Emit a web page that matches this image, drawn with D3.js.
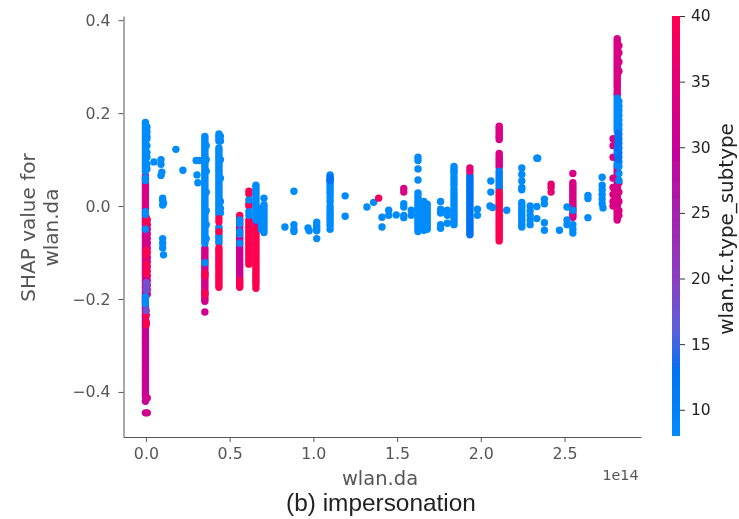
<!DOCTYPE html>
<html>
<head>
<meta charset="utf-8">
<script src="https://cdn.jsdelivr.net/npm/d3@7"></script>
<style>
  body { margin: 0; background: #fff; }
  text { font-family: "DejaVu Sans", sans-serif; }
</style>
</head>
<body>
<div id="chart"></div>
<script>
// x values are in units of 1e14
const xTicks = [0, 0.5, 1, 1.5, 2, 2.5];
const yTicks = [-0.4, -0.2, 0, 0.2, 0.4];
const colorTicks = [10, 15, 20, 25, 30, 35, 40];

// colour stops of the bar
const colorDomain = [8, 13, 16, 20, 25, 30, 35, 40];
const colorRange = ["#008bfb", "#0073f2", "#5a60dc", "#8a3fc0", "#a521ad", "#c8009a", "#e40078", "#ff0051"];

// column at 0.0
const col00Pink = [0.065, 0.06, 0.055, 0.05, 0.045, 0.04, 0.035, 0.03, 0.025, 0.02, 0.015, 0.01, 0.005, 0, -0.005, -0.01, -0.015, -0.02, -0.025, -0.03, -0.035, -0.04, -0.045, -0.05, -0.055, -0.06, -0.065, -0.07, -0.075, -0.08, -0.085, -0.09, -0.095, -0.1, -0.105, -0.11, -0.115, -0.12, -0.125, -0.13, -0.135, -0.14, -0.145, -0.15, -0.155, -0.16, -0.165, -0.17, -0.175, -0.18, -0.185, -0.19];
const col00Magenta = [-0.195, -0.2, -0.205, -0.21, -0.215, -0.22, -0.225, -0.23, -0.235, -0.24, -0.245, -0.25, -0.255, -0.26, -0.265, -0.27, -0.275, -0.28, -0.285, -0.29, -0.295, -0.3, -0.305, -0.31, -0.315, -0.32, -0.325, -0.33, -0.335, -0.34, -0.345, -0.35, -0.355, -0.36, -0.365, -0.37, -0.375, -0.38, -0.385, -0.39, -0.395, -0.4, -0.405, -0.41, -0.42, -0.445];
const col00MagentaMid = [-0.05, -0.06, -0.075, -0.085, -0.095, -0.11, -0.12, -0.13, -0.15, -0.16, -0.17, -0.18];
const col00MagentaRight = [-0.03, -0.04, -0.05, -0.06, -0.07, -0.08, -0.09, -0.1, -0.11, -0.12, -0.13, -0.14, -0.15, -0.16, -0.17, -0.18, -0.19, -0.413, -0.445];
const col00Red = [-0.025, -0.035, -0.095, -0.1, -0.105, -0.125, -0.14, -0.145, -0.235, -0.25, -0.255];
const col00Purple = [-0.165, -0.17, -0.18, -0.225];
const col00Blue = [0.18, 0.175, 0.17, 0.165, 0.16, 0.155, 0.15, 0.145, 0.14, 0.135, 0.13, 0.125, 0.12, 0.115, 0.11, 0.105, 0.1, 0.095, 0.09, 0.085, 0.08, 0.075, 0.06, 0.055, -0.012, -0.018, -0.05, -0.195, -0.2, -0.205, -0.21];
const col00BlueRight = [0.17, 0.16, 0.15, 0.145, 0.13, 0.115, 0.105, 0.09, 0.08];

// column at 0.35
const col35Magenta = [-0.09, -0.095, -0.1, -0.105, -0.11, -0.115, -0.12, -0.125, -0.13, -0.135, -0.14, -0.145, -0.15, -0.155, -0.16, -0.165, -0.17, -0.175, -0.18, -0.185, -0.19, -0.195, -0.2, -0.205, -0.228];
const col35Red = [-0.145, -0.15, -0.187, -0.19];
const col35Blue = [0.15, 0.145, 0.14, 0.135, 0.13, 0.125, 0.12, 0.115, 0.11, 0.105, 0.1, 0.095, 0.09, 0.085, 0.08, 0.075, 0.07, 0.065, 0.06, 0.055, 0.05, 0.045, 0.04, 0.035, 0.03, 0.025, 0.02, 0.015, 0.01, 0.005, 0, -0.005, -0.01, -0.015, -0.02, -0.025, -0.03, -0.035, -0.04, -0.045, -0.05, -0.055, -0.06, -0.065, -0.07, -0.075, -0.08, -0.122];
const col35BlueRight = [0.13, 0.1, 0.075, 0.03, -0.01, -0.04, -0.07];

// column at 0.44
const col44Blue = [0.155, 0.15, 0.145, 0.14, 0.125, 0.12, 0.115, 0.11, 0.105, 0.1, 0.095, 0.09, 0.085, 0.08, 0.075, 0.07, 0.065, 0.06, 0.055, 0.05, 0.045, 0.04, 0.035, 0.03, 0.025, 0.02, 0.015, 0.01, 0.005, 0, -0.005, -0.01, -0.015, -0.02, -0.045, -0.05, -0.06, -0.065, -0.07, -0.075, -0.08];
const col44BlueRight = [0.15, 0.14, 0.1, 0.06, 0.01, -0.005, -0.015];
const col44Red = [-0.027, -0.034, -0.055, -0.09, -0.095, -0.1, -0.105, -0.11, -0.115, -0.12, -0.125, -0.13, -0.135, -0.14, -0.145, -0.15, -0.155, -0.16, -0.165, -0.17, -0.175];

// column at 0.56
const col56Magenta = [-0.025, -0.03, -0.035, -0.04, -0.045, -0.05, -0.055, -0.06, -0.065, -0.07, -0.075, -0.08, -0.085, -0.09, -0.095, -0.1, -0.105, -0.11, -0.115, -0.12, -0.125, -0.13, -0.135, -0.14, -0.145, -0.15, -0.155, -0.16, -0.165, -0.172];
const col56Red = [-0.02, -0.16, -0.168, -0.175];
const col56Blue = [-0.03, -0.038, -0.055, -0.06, -0.08];

// column at 0.615
const col61Red = [0.032, 0.026, 0.005, 0, -0.03, -0.035, -0.04, -0.045, -0.05, -0.055, -0.06, -0.065, -0.07, -0.075, -0.08, -0.085, -0.09, -0.095, -0.1, -0.105, -0.11, -0.115, -0.12, -0.125];
const col61Blue = [0.013, -0.012, -0.02];

// columns at 0.66 and 0.7
const col66Red = [-0.04, -0.045, -0.05, -0.055, -0.06, -0.065, -0.07, -0.075, -0.08, -0.085, -0.09, -0.095, -0.1, -0.105, -0.11, -0.115, -0.12, -0.125, -0.13, -0.135, -0.14, -0.145, -0.15, -0.155, -0.16, -0.165, -0.17, -0.177];
const col66Magenta = [-0.035, -0.03];
const col66Blue = [0.045, 0.04, 0.035, 0.03, 0.025, 0.02, 0.015, 0.01, 0.005, 0, -0.005, -0.01, -0.015, -0.02, -0.025, -0.03];
const col70Blue = [0.017, 0.003, -0.002, -0.008, -0.014, -0.02, -0.026, -0.032, -0.038, -0.044, -0.05, -0.057];
const col69Blue = [-0.005, -0.015, -0.025, -0.04, -0.05];

// middle columns
const col110Blue = [0.067, 0.06, 0.055, 0.05, 0.044, 0.038, 0.032, 0.026, 0.018, 0.01, 0, -0.006, -0.012, -0.018, -0.024, -0.03, -0.036, -0.042, -0.05];
const col110Dark = [0.062, 0.055];
const col1625Blue = [0.105, 0.098, 0.08, 0.056, 0.028, 0.022, 0.016, 0.01, 0.005, 0, -0.005, -0.01, -0.015, -0.02, -0.025, -0.03, -0.035, -0.04, -0.045, -0.05, -0.055];
const col166Blue = [0.01, 0.005, 0, -0.005, -0.01, -0.015, -0.02, -0.025, -0.03, -0.035, -0.04, -0.045, -0.052];
const col168Blue = [0.004, -0.002, -0.008, -0.014, -0.02, -0.026, -0.032, -0.038, -0.044, -0.05];
const col184Blue = [0.085, 0.08, 0.075, 0.07, 0.062, 0.056, 0.05, 0.044, 0.036, 0.03, 0.024, 0.018, 0.012, 0.006, 0, -0.006, -0.012, -0.018, -0.024, -0.03, -0.036, -0.04];
const col193Dark = [0.067, 0.062, 0.057, 0.052, 0.047, 0.042, 0.037, 0.032, 0.027, 0.022, 0.017, 0.012, 0.007, 0.002, -0.003, -0.008, -0.013, -0.018, -0.023, -0.028, -0.033, -0.038, -0.043, -0.048, -0.053, -0.058, -0.062];
const col193Pink = [0.082, 0.075];
const col224Blue = [0.082, 0.068, 0.054, 0.04, 0.035, 0.008, 0.002, -0.004, -0.01, -0.016, -0.022, -0.028, -0.034, -0.04, -0.045];
const col229Blue = [0, -0.01, -0.02, -0.03, -0.04];

// column at 2.11
const col211Magenta = [0.172, 0.167, 0.162, 0.157, 0.152, 0.148, 0.143, 0.113, 0.108, 0.103, 0.098, 0.093, 0.088, 0.083];
const col211Dark = [0.075, 0.07, 0.065, 0.06, 0.055, 0.05, 0.045, 0.04, 0.035];
const col211Red = [0.03, 0.025, 0.02, 0.015, 0.01, 0.005, 0, -0.005, -0.01, -0.015, -0.02, -0.025, -0.03, -0.035, -0.04, -0.045, -0.05, -0.055, -0.06, -0.065, -0.07, -0.075];

// column at 2.55
const col255Magenta = [0.07, 0.05, 0.045, 0.04, 0.035, 0.03, 0.025, 0.02, 0.015, 0.01, 0.005, 0, -0.005, -0.01, -0.015, -0.02, -0.024];
const col255Blue = [-0.009, -0.04, -0.05, -0.058];

// column at 2.82
const col282Magenta = [0.36, 0.355, 0.35, 0.345, 0.34, 0.335, 0.33, 0.325, 0.32, 0.315, 0.31, 0.305, 0.3, 0.295, 0.29, 0.285, 0.28, 0.275, 0.27, 0.265, 0.26, 0.255, 0.248, 0.243, 0.238, 0.103, 0.085, 0.08, 0.075, 0.07, 0.065, 0.06, 0.055, 0.05, 0.045, 0.04, 0.035, 0.03, 0.025, 0.02, 0.015, 0.01, 0.005, 0, -0.005, -0.01, -0.015, -0.02, -0.025, -0.03];
const col282MagentaSide = [0.145, 0.13, 0.105, 0.06, 0.04, 0.025, 0.01, 0];
const col282MagentaRight = [0.345, 0.33, 0.31, 0.29, 0.05, 0.03, 0.01, -0.01, -0.02];
const col282Blue = [0.232, 0.227, 0.222, 0.217, 0.212, 0.207, 0.202, 0.197, 0.192, 0.187, 0.182, 0.177, 0.172, 0.167, 0.162, 0.122, 0.117, 0.112, 0.092, 0.087];
const col282BlueRight = [0.225, 0.215, 0.205, 0.195, 0.185, 0.175, 0.165, 0.155, 0.145, 0.135, 0.125, 0.115, 0.105, 0.095, 0.085, 0.07, 0.055];
const col282Dark = [0.157, 0.152, 0.147, 0.142, 0.137, 0.132, 0.127, 0.122, 0.115, 0.108, 0.1];

// [x, fc subtype, y values], painted in this order
const strips = [
  [-0.003, 33, col00Pink], [-0.003, 30, col00Magenta], [0.003, 30, col00MagentaMid], [0.008, 32, col00MagentaRight], [0.002, 40, col00Red], [0.002, 18, col00Purple],
  [-0.003, 8, col00Blue], [0.006, 8, col00BlueRight],
  [0.352, 32, col35Magenta], [0.352, 40, col35Red], [0.352, 8, col35Blue], [0.36, 8, col35BlueRight],
  [0.436, 8, col44Blue], [0.445, 8, col44BlueRight], [0.436, 40, col44Red],
  [0.56, 31, col56Magenta], [0.56, 40, col56Red], [0.56, 8, col56Blue],
  [0.615, 40, col61Red], [0.615, 8, col61Blue],
  [0.657, 40, col66Red], [0.657, 32, col66Magenta], [0.657, 8, col66Blue],
  [0.705, 8, col70Blue], [0.69, 8, col69Blue],
  [1.1, 8, col110Blue], [1.1, 13, col110Dark],
  [1.625, 8, col1625Blue], [1.66, 8, col166Blue], [1.68, 8, col168Blue],
  [1.84, 8, col184Blue], [1.935, 13, col193Dark], [1.935, 35, col193Pink],
  [2.245, 8, col224Blue], [2.295, 8, col229Blue],
  [2.11, 33, col211Magenta], [2.11, 10, col211Dark], [2.11, 40, col211Red],
  [2.55, 33, col255Magenta], [2.55, 8, col255Blue],
  [2.815, 33, col282Magenta], [2.79, 33, col282MagentaSide], [2.825, 33, col282MagentaRight],
  [2.815, 8, col282Blue], [2.825, 8, col282BlueRight], [2.82, 13, col282Dark]
];

// loose blue points
const looseX = [0.048, 0.09, 0.09, 0.095, 0.09, 0.179, 0.221, 0.3, 0.318, 0.305, 0.31, 0.1, 0.1, 0.105, 0.1, 0.1, 0.1, 0.1, 0.105, 0.884, 0.83, 0.884, 0.884, 0.884, 0.968, 0.975, 1.02, 1.02, 1.02, 1.02, 1.02, 1.19, 1.19, 1.32, 1.36, 1.41, 1.41, 1.45, 1.45, 1.495, 1.54, 1.54, 1.54, 1.54, 1.585, 1.585, 1.76, 1.76, 1.76, 1.76, 1.76, 1.8, 1.8, 1.8, 1.98, 1.98, 2.06, 2.06, 2.055, 2.07, 2.155, 2.335, 2.34, 2.335, 2.335, 2.38, 2.38, 2.38, 2.38, 2.47, 2.515, 2.515, 2.515, 2.64, 2.64, 2.64, 2.725, 2.725, 2.725, 2.725, 2.725, 2.725, 2.73];
const looseY = [0.095, 0.1, 0.09, 0.073, 0.066, 0.122, 0.077, 0.098, 0.098, 0.067, 0.05, 0.017, 0.012, 0.006, 0.002, -0.07, -0.08, -0.09, -0.105, 0.032, -0.045, -0.04, -0.05, -0.055, -0.047, -0.053, -0.035, -0.042, -0.047, -0.053, -0.07, 0.022, -0.022, -0.002, 0.008, -0.024, -0.045, -0.009, -0.02, -0.019, 0.005, -0.002, -0.02, -0.025, -0.009, -0.02, 0.01, -0.007, -0.015, -0.04, -0.048, -0.009, -0.02, -0.037, -0.007, -0.02, 0.054, 0.03, 0, -0.003, -0.009, 0.103, 0.103, -0.001, -0.027, 0.015, 0.005, -0.036, -0.052, -0.052, -0.002, -0.03, -0.04, 0.023, 0.016, -0.025, 0.062, 0.045, 0.035, 0.025, 0.015, 0.005, -0.004];

// the few loose pink points
const pinkX = [1.39, 1.54, 1.54, 2.42, 2.42, 2.42];
const pinkY = [0.017, 0.038, 0.03, 0.047, 0.04, 0.03];
const pinkSubtype = [38, 33, 33, 36, 36, 36];

const svg = d3.select("#chart").append("svg")
  .attr("width", 739)
  .attr("height", 519);

// The reference is a slightly soft upscaled screenshot
const defs = svg.append("defs");
defs.append("filter").attr("id", "soft")
  .attr("filterUnits", "userSpaceOnUse")
  .attr("x", 0).attr("y", 0).attr("width", 739).attr("height", 519)
  .append("feGaussianBlur").attr("stdDeviation", 0.55);
const root = svg.append("g").attr("filter", "url(#soft)");

const x = d3.scaleLinear().domain([-0.134, 2.957]).range([123.5, 641]);
const y = d3.scaleLinear().domain([-0.497, 0.409]).range([437, 16]);
const c = d3.scaleLinear().domain(colorDomain).range(colorRange);
const cBar = d3.scaleLinear().domain([8, 40]).range([436, 16]);

// Flatten strips and loose points into one list of dots
const dots = [];
strips.forEach(function (s) {
  s[2].forEach(function (v) {
    dots.push({x: s[0], y: v, c: s[1]});
  });
});
looseX.forEach(function (v, i) {
  dots.push({x: v, y: looseY[i], c: 8});
});
pinkX.forEach(function (v, i) {
  dots.push({x: v, y: pinkY[i], c: pinkSubtype[i]});
});

root.append("g")
  .selectAll("circle")
  .data(dots)
  .enter()
  .append("circle")
  .attr("cx", function (d) { return x(d.x); })
  .attr("cy", function (d) { return y(d.y); })
  .attr("r", 3.7)
  .style("fill", function (d) { return c(d.c); });

// Axes
const gx = root.append("g")
  .attr("transform", "translate(0,437)")
  .call(d3.axisBottom(x).tickValues(xTicks).tickFormat(d3.format(".1f")).tickSize(5).tickSizeOuter(0));
const gy = root.append("g")
  .attr("transform", "translate(123.5,0)")
  .call(d3.axisLeft(y).tickValues(yTicks).tickFormat(function (d) {
    return d3.format(".1f")(d).replace("-", "\u2212");
  }).tickSize(5).tickSizeOuter(0));

[gx, gy].forEach(function (g) {
  g.selectAll("path, line").style("stroke", "#555").style("stroke-width", 1);
  g.selectAll("text").style("fill", "#555").style("font-size", "15.8px");
});
gx.selectAll("text").attr("y", 11).attr("dy", "0.71em");
gy.selectAll("text").attr("x", -13);

// Colour bar
const grad = defs.append("linearGradient")
  .attr("id", "bar")
  .attr("x1", 0).attr("y1", 1).attr("x2", 0).attr("y2", 0);
colorDomain.forEach(function (d) {
  grad.append("stop")
    .attr("offset", (d - 8) / 32)
    .attr("stop-color", c(d));
});
root.append("rect")
  .attr("x", 672).attr("y", 16)
  .attr("width", 8).attr("height", 420)
  .style("fill", "url(#bar)");

const gc = root.append("g")
  .attr("transform", "translate(680,0)")
  .call(d3.axisRight(cBar).tickValues(colorTicks).tickSize(5).tickSizeOuter(0));
gc.select("path").remove();
gc.selectAll("line").style("stroke", "#333");
gc.selectAll("text").style("fill", "#222").style("font-size", "15.5px").attr("x", 11);

// Labels
root.append("text").attr("x", 380).attr("y", 485)
  .attr("text-anchor", "middle")
  .style("font-size", "19.5px").style("fill", "#555")
  .text("wlan.da");
root.append("text").attr("x", 638.5).attr("y", 480)
  .attr("text-anchor", "end")
  .style("font-size", "14.3px").style("fill", "#555")
  .text("1e14");
root.append("text").attr("x", 381).attr("y", 511)
  .attr("text-anchor", "middle")
  .style("font-family", "'Liberation Sans', sans-serif")
  .style("font-size", "24.4px").style("fill", "#222")
  .text("(b) impersonation");
root.append("text")
  .attr("transform", "translate(35,227.5) rotate(-90)")
  .attr("text-anchor", "middle")
  .style("font-size", "20px").style("fill", "#555")
  .text("SHAP value for");
root.append("text")
  .attr("transform", "translate(58,227.5) rotate(-90)")
  .attr("text-anchor", "middle")
  .style("font-size", "20px").style("fill", "#555")
  .text("wlan.da");
root.append("text")
  .attr("transform", "translate(733,229) rotate(-90)")
  .attr("text-anchor", "middle")
  .style("font-size", "19.9px").style("fill", "#222")
  .text("wlan.fc.type_subtype");
</script>
</body>
</html>
